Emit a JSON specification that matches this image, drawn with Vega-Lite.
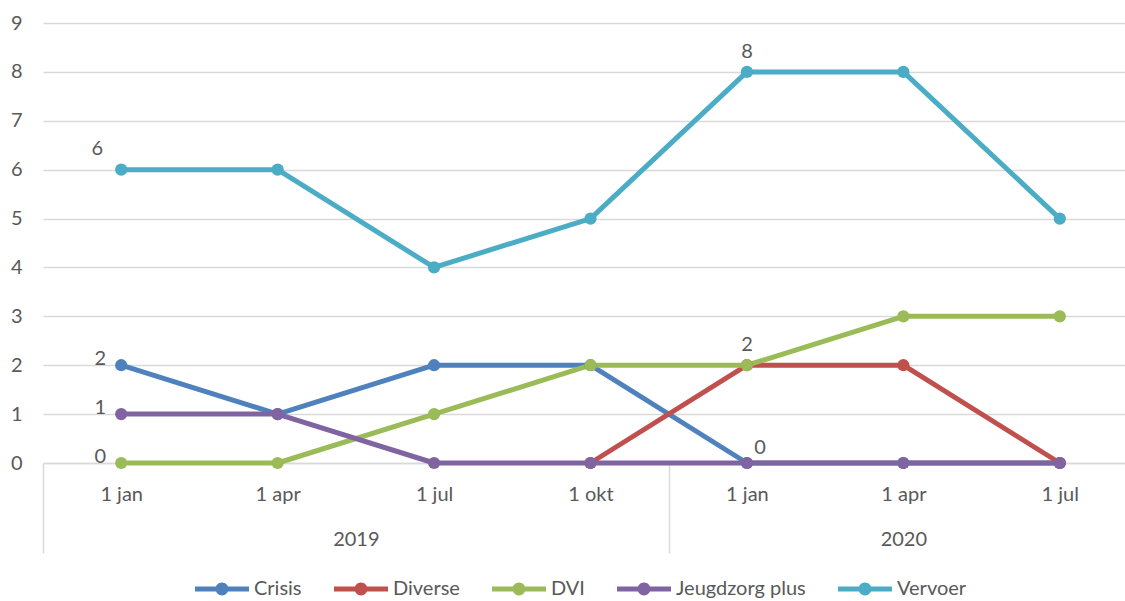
{
  "$schema": "https://vega.github.io/schema/vega-lite/v6.json",
  "width": 1095,
  "height": 440,
  "autosize": {"type": "none"},
  "padding": {"left": 43, "top": 23, "right": 0, "bottom": 138},
  "background": "white",
  "config": {
    "view": {"stroke": null},
    "font": "Lato",
    "axis": {"labelFont": "Lato", "labelFontSize": 20, "labelColor": "#595959"},
    "legend": {"labelFont": "Lato"}
  },
  "data": {
    "values": [
      {"series": "Crisis", "i": 0, "value": 2},
      {"series": "Crisis", "i": 1, "value": 1},
      {"series": "Crisis", "i": 2, "value": 2},
      {"series": "Crisis", "i": 3, "value": 2},
      {"series": "Crisis", "i": 4, "value": 0},
      {"series": "Crisis", "i": 5, "value": 0},
      {"series": "Crisis", "i": 6, "value": 0},
      {"series": "Diverse", "i": 3, "value": 0},
      {"series": "Diverse", "i": 4, "value": 2},
      {"series": "Diverse", "i": 5, "value": 2},
      {"series": "Diverse", "i": 6, "value": 0},
      {"series": "DVI", "i": 0, "value": 0},
      {"series": "DVI", "i": 1, "value": 0},
      {"series": "DVI", "i": 2, "value": 1},
      {"series": "DVI", "i": 3, "value": 2},
      {"series": "DVI", "i": 4, "value": 2},
      {"series": "DVI", "i": 5, "value": 3},
      {"series": "DVI", "i": 6, "value": 3},
      {"series": "Jeugdzorg plus", "i": 0, "value": 1},
      {"series": "Jeugdzorg plus", "i": 1, "value": 1},
      {"series": "Jeugdzorg plus", "i": 2, "value": 0},
      {"series": "Jeugdzorg plus", "i": 3, "value": 0},
      {"series": "Jeugdzorg plus", "i": 4, "value": 0},
      {"series": "Jeugdzorg plus", "i": 5, "value": 0},
      {"series": "Jeugdzorg plus", "i": 6, "value": 0},
      {"series": "Vervoer", "i": 0, "value": 6},
      {"series": "Vervoer", "i": 1, "value": 6},
      {"series": "Vervoer", "i": 2, "value": 4},
      {"series": "Vervoer", "i": 3, "value": 5},
      {"series": "Vervoer", "i": 4, "value": 8},
      {"series": "Vervoer", "i": 5, "value": 8},
      {"series": "Vervoer", "i": 6, "value": 5}
    ]
  },
  "encoding": {
    "y": {
      "field": "value", "type": "quantitative",
      "scale": {"domain": [0, 9], "nice": false, "zero": false},
      "axis": {"values": [0,1,2,3,4,5,6,7,8,9], "title": null, "domain": false, "ticks": false, "grid": true, "gridColor": "#d9d9d9", "gridWidth": 1.5, "labelPadding": 21}
    },
    "color": {
      "field": "series", "type": "nominal",
      "scale": {"domain": ["Crisis", "Diverse", "DVI", "Jeugdzorg plus", "Vervoer"], "range": ["#4F81BD", "#C0504D", "#9BBB59", "#8064A2", "#4BACC6"]},
      "legend": {
        "title": null, "orient": "none", "legendX": 152, "legendY": 539, "direction": "horizontal", "columns": 5,
        "symbolType": "M-1,-0.096L1,-0.096L1,0.096L-1,0.096Z M-0.24,0A0.24,0.24 0 1,1 0.24,0A0.24,0.24 0 1,1 -0.24,0Z",
        "symbolSize": 2916, "labelOffset": 5, "columnPadding": 32, "labelFontSize": 20, "labelColor": "#595959",
        "encode": {"symbols": {"update": {"fill": {"scale": "color", "field": "value"}, "stroke": {"value": "transparent"}, "strokeWidth": {"value": 0}, "opacity": {"value": 1}}}}
      }
    }
  },
  "resolve": {"axis": {"x": "independent"}},
  "layer": [
    {
      "mark": {"type": "line", "strokeWidth": 5, "strokeCap": "round", "strokeJoin": "round"},
      "encoding": {
        "x": {
          "field": "i", "type": "quantitative",
          "scale": {"domain": [-0.5, 6.5], "nice": false, "zero": false},
          "axis": {"values": [0,1,2,3,4,5,6], "labelExpr": "['1 jan','1 apr','1 jul','1 okt','1 jan','1 apr','1 jul'][datum.value]", "title": null, "grid": false, "ticks": false, "domain": true, "domainColor": "#d9d9d9", "domainWidth": 1.5, "labelPadding": 21, "labelFlush": false, "labelOverlap": false, "orient": "bottom"}
        }
      }
    },
    {
      "mark": {"type": "point", "filled": true, "size": 150, "opacity": 1},
      "encoding": {
        "x": {
          "field": "i", "type": "quantitative",
          "axis": {"values": [-0.5, 1.5, 3.5, 5, 6.5], "labelExpr": "datum.value==1.5?'2019':datum.value==5?'2020':''", "title": null, "grid": false, "domain": false, "ticks": true, "tickSize": 90, "tickColor": "#d9d9d9", "tickWidth": 1.5,
            "tickOpacity": {"condition": {"test": "datum.value==-0.5||datum.value==3.5||datum.value==6.5", "value": 1}, "value": 0},
            "labelPadding": -24, "labelFlush": false, "labelOverlap": false, "labelBound": false, "orient": "bottom"}
        }
      }
    },
    {
      "transform": [{"filter": "datum.i==0 && (datum.series=='Crisis' || datum.series=='DVI' || datum.series=='Jeugdzorg plus')"}],
      "mark": {"type": "text", "dx": -21, "dy": -6, "fontSize": 20, "baseline": "middle", "align": "center"},
      "encoding": {"x": {"field": "i", "type": "quantitative", "axis": null}, "text": {"field": "value"}, "color": {"value": "#595959"}}
    },
    {
      "transform": [{"filter": "datum.i==0 && datum.series=='Vervoer'"}],
      "mark": {"type": "text", "dx": -24, "dy": -21, "fontSize": 20, "baseline": "middle", "align": "center"},
      "encoding": {"x": {"field": "i", "type": "quantitative", "axis": null}, "text": {"field": "value"}, "color": {"value": "#595959"}}
    },
    {
      "transform": [{"filter": "datum.i==4 && (datum.series=='Vervoer' || datum.series=='DVI')"}],
      "mark": {"type": "text", "dx": 0, "dy": -20, "fontSize": 20, "baseline": "middle", "align": "center"},
      "encoding": {"x": {"field": "i", "type": "quantitative", "axis": null}, "text": {"field": "value"}, "color": {"value": "#595959"}}
    },
    {
      "transform": [{"filter": "datum.i==4 && datum.series=='Crisis'"}],
      "mark": {"type": "text", "dx": 13, "dy": -15, "fontSize": 20, "baseline": "middle", "align": "center"},
      "encoding": {"x": {"field": "i", "type": "quantitative", "axis": null}, "text": {"field": "value"}, "color": {"value": "#595959"}}
    }
  ]
}
